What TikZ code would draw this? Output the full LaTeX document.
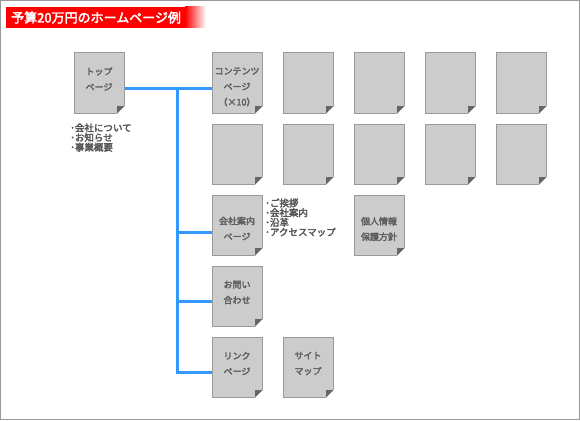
\documentclass[tikz,border=0pt]{standalone}
\usepackage{fontspec}
\setmainfont{Noto Sans CJK JP}
\newfontfamily\jpb{Noto Sans CJK JP}[FakeBold=3]
\definecolor{pfill}{HTML}{CCCCCC}
\definecolor{pline}{HTML}{999999}
\definecolor{pfold}{HTML}{666666}
\definecolor{ptext}{HTML}{5E5E5E}
\definecolor{btext}{HTML}{555555}
\definecolor{linkblue}{HTML}{3399FF}
\definecolor{frame}{HTML}{999999}
\begin{document}
\begin{tikzpicture}[x=1pt,y=-1pt,
 page/.style={draw=pline, fill=pfill, line width=1pt, minimum width=50pt, minimum height=60pt, inner sep=0pt},
 ptxt/.style={text=ptext, font=\jpb\fontsize{9}{15.5}\selectfont, align=center, inner sep=0pt},
 blist/.style={text=btext, font=\jpb\fontsize{9.5}{9.7}\selectfont, align=left, inner sep=0pt, anchor=west},
 conn/.style={draw=linkblue, line width=3pt},
 ]
\useasboundingbox (0,0) rectangle (580,420);
\draw[frame, line width=1pt] (0.5,0.5) rectangle (579.5,419.5);
% title
\fill[red] (6,7) rectangle (186,28);
\shade[left color=red, right color=white] (185,7) rectangle (206,28);
\node[anchor=west, text=white, font=\jpb\fontsize{13}{13}\selectfont, inner sep=0pt] (title) at (11,17.5) {予算20万円のホームページ例};
% pages
\node[page] (top) at (99,83) {};
\foreach \c/\x in {1/237,2/308,3/379,4/450,5/521} {
  \node[page] (r1c\c) at (\x,83) {};
  \node[page] (r2c\c) at (\x,154) {};
}
\node[page] (kaisha) at (237,225) {};
\node[page] (kojin) at (379,225) {};
\node[page] (toi) at (237,296) {};
\node[page] (link) at (237,367) {};
\node[page] (site) at (308,367) {};
% folded corners
\foreach \n in {top,r1c1,r1c2,r1c3,r1c4,r1c5,r2c1,r2c2,r2c3,r2c4,r2c5,kaisha,kojin,toi,link,site} {
  \fill[white] ([xshift=-8.5pt,yshift=-1pt]\n.south east) -- ([xshift=1pt,yshift=-1pt]\n.south east) -- ([xshift=1pt,yshift=8.5pt]\n.south east) -- cycle;
  \fill[pfold] ([xshift=-7.5pt]\n.south east) -- ([xshift=-7.5pt,yshift=7.5pt]\n.south east) -- ([yshift=7.5pt]\n.south east) -- cycle;
}
% texts
\node[ptxt] (top-t) at (99,79) {トップ\\ページ};
\node[ptxt] (r1c1-t) at (237,87) {コンテンツ\\ページ\\（×10）};
\node[ptxt] (kaisha-t) at (237,228.5) {会社案内\\ページ};
\node[ptxt] (kojin-t) at (379,229) {個人情報\\保護方針};
\node[ptxt] (toi-t) at (237,292.5) {お問い\\合わせ};
\node[ptxt] (link-t) at (237,363.5) {リンク\\ページ};
\node[ptxt] (site-t) at (308,363.5) {サイト\\マップ};
\node[blist] (list1) at (70,137.5) {･会社について\\･お知らせ\\･事業概要};
\node[blist] (list2) at (265,217.5) {･ご挨拶\\･会社案内\\･沿革\\･アクセスマップ};
% connectors
\coordinate (j) at (177,88);
\draw[conn] (top.east |- j) -- (r1c1.west |- j);
\draw[conn] (j) |- ([yshift=-7pt]kaisha.west);
\draw[conn] (j) |- ([yshift=-5pt]toi.west);
\draw[conn] (j) |- ([yshift=-5pt]link.west);
\end{tikzpicture}
\end{document}
